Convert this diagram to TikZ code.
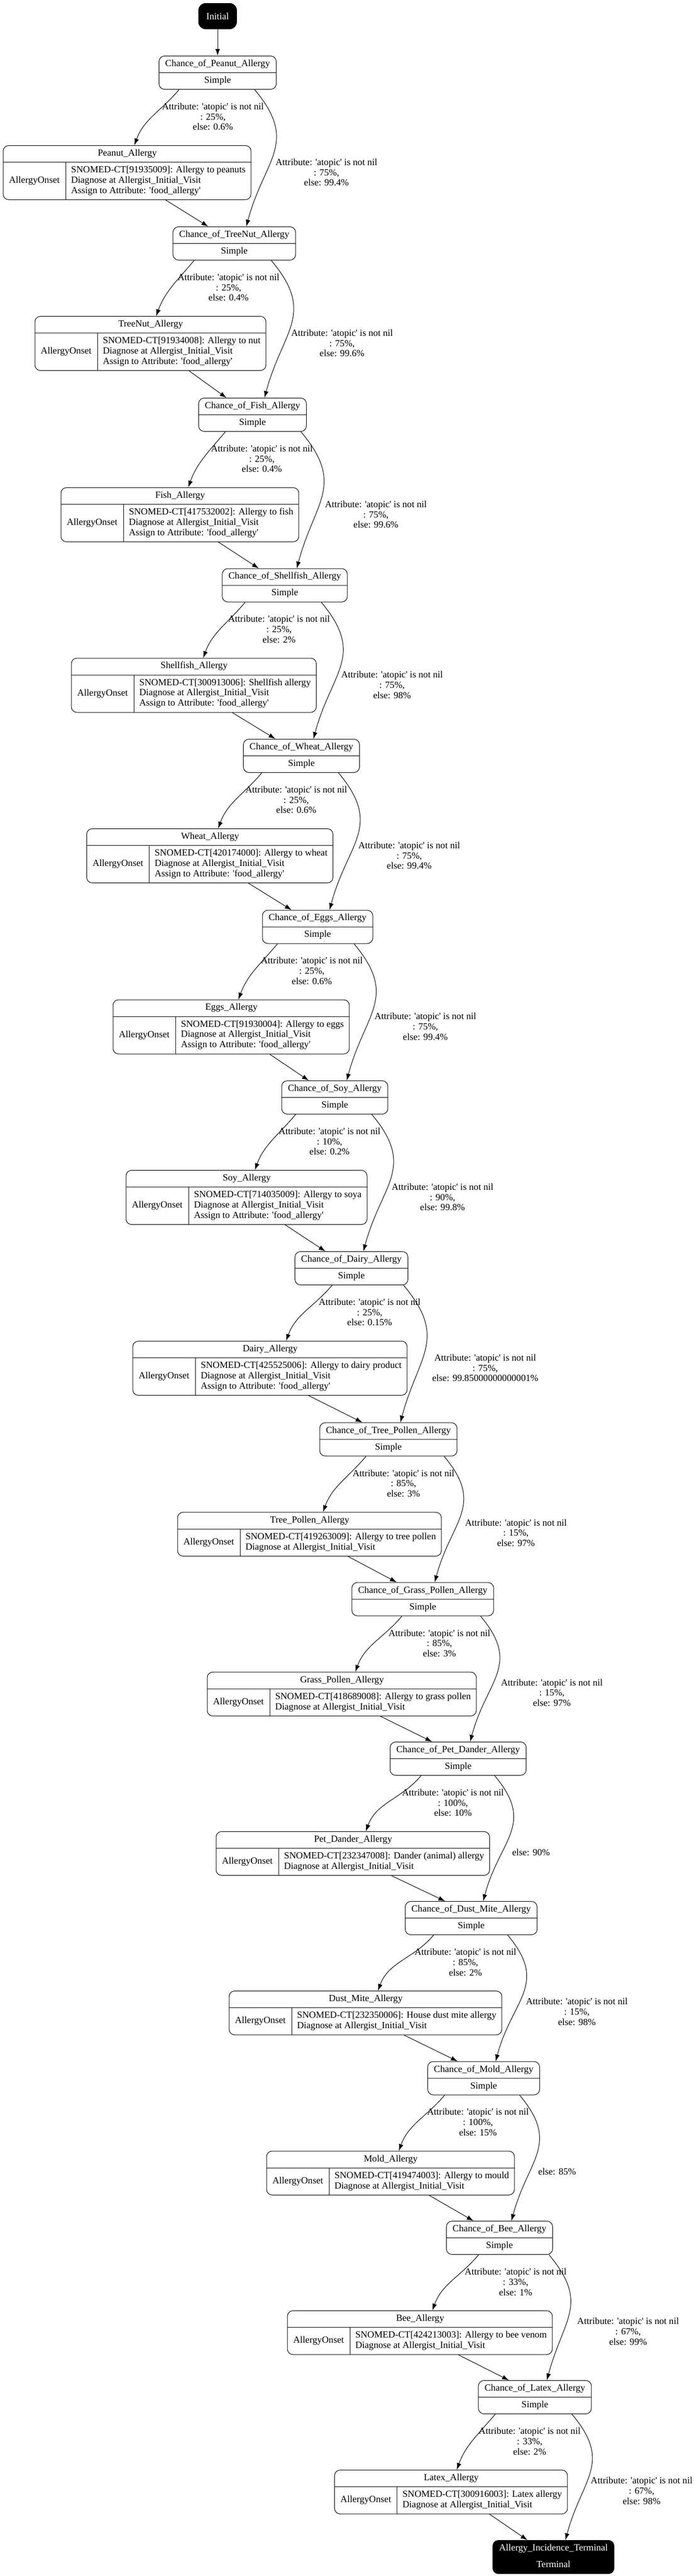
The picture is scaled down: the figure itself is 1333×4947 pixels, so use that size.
\documentclass[tikz,border=0pt]{standalone}
\usepackage{fontspec}
\setmainfont{Liberation Serif}[Ligatures=TeXOff]
\usetikzlibrary{shapes.multipart, fit, calc, arrows.meta}

\begin{document}
\begin{tikzpicture}[x=0.75pt, y=0.75pt, >={Latex[length=9.75pt, width=6.75pt]}, line width=0.75pt,
  font=\fontsize{13.6}{14.85}\selectfont,
  chance/.style={rectangle split, rectangle split parts=2, draw, rounded corners=8pt, inner xsep=9pt, inner ysep=4.2pt},
  startnode/.style={draw, fill=black, text=white, rounded corners=10pt, minimum width=54.75pt, minimum height=36.75pt},
  head/.style={inner xsep=0pt, inner ysep=4.2pt},
  detail/.style={align=left, inner xsep=7.5pt, inner ysep=4.35pt},
  onset/.style={inner sep=0pt, minimum width=89.25pt},
  record/.style={draw, rounded corners=8pt, inner sep=0pt},
  lbl/.style={align=center, inner sep=0pt}]
  \useasboundingbox (0,0) rectangle (1333,-4947);
  \node[startnode, anchor=north] (init) at (418,-6) {Initial};
  % one level per allergy: chance node, allergy record, two labels
  \foreach \i/\nm/\cx/\ct/\ax/\code/\what/\food/\pa/\ea/\dl/\pb/\eb/\dr in {
    1/Peanut/418/107/7/91935009/Allergy to peanuts/1/25/0.6/-9/75/99.4/209,
    2/TreeNut/450/435/68/91934008/Allergy to nut/1/25/0.4/-11/75/99.6/207,
    3/Fish/485/764/118/417532002/Allergy to fish/1/25/0.4/18/75/99.6/237,
    4/Shellfish/547/1091.5/138/300913006/Shellfish allergy/1/25/2/-11/75/98/206,
    5/Wheat/579/1419/167.5/420174000/Allergy to wheat/1/25/0.6/-10/75/99.4/207,
    6/Eggs/610/1747.5/218/91930004/Allergy to eggs/1/25/0.6/-11/75/99.4/207,
    7/Soy/643/2075/243/714035009/Allergy to soya/1/10/0.2/-10/90/99.8/207,
    8/Dairy/675/2403/256/425525006/Allergy to dairy product/1/25/0.15/35/75/99.85000000000001/257,
    9/Tree\_Pollen/746/2731.7/342/419263009/Allergy to tree pollen/0/85/3/29/15/97/245,
    10/Grass\_Pollen/812/3038.6/399/418689008/Allergy to grass pollen/0/85/3/32/15/97/248,
    11/Pet\_Dander/880/3344.8/416/232347008/Dander (animal) allergy/0/100/10/-10/0/90/140,
    12/Dust\_Mite/905/3651/441/232350006/House dust mite allergy/0/85/2/-11/15/98/203,
    13/Mold/929/3958.5/513/419474003/Allergy to mould/0/100/15/-11/0/85/141,
    14/Bee/959.4/4265/553/424213003/Allergy to bee venom/0/33/1/31/67/99/247,
    15/Latex/1027.4/4571/643.6/300916003/Latex allergy/0/33/2/-10/67/98/205}
  {
    \ifnum\food=1 \def\more{\\Assign to Attribute: 'food\_allergy'}\else\def\more{}\fi
    \ifnum\pb=0 \def\rest{else: \eb\%}\else\def\rest{Attribute: 'atopic' is not nil\\: \pb\%,\\else: \eb\%}\fi
    \node[chance, anchor=north] (c\i) at (\cx,-\ct) {\strut Chance\_of\_\nm\_Allergy\nodepart{two}\strut Simple};
    \node[detail, anchor=north west] (d\i) at (\ax+119,-\ct-204.5) {\strut SNOMED-CT[\code]: \what\\Diagnose at Allergist\_Initial\_Visit\more\strut};
    \node[onset, anchor=east] (o\i) at (d\i.west) {AllergyOnset};
    \node[head, anchor=south] (t\i) at ($(\ax,-\ct-204.5)!.5!(d\i.north east)$) {\strut\nm\_Allergy};
    \node[record, fit=(t\i.north)(o\i.west)(d\i.south east)] (a\i) {};
    \draw (a\i.west |- d\i.north) -- (a\i.east |- d\i.north) (d\i.north west) -- (d\i.south west);
    \node[lbl] (l\i) at (\cx+\dl,-\ct-117) {Attribute: 'atopic' is not nil\\: \pa\%,\\else: \ea\%};
    \node[lbl] (r\i) at (\cx+\dr,-\ct-212-12*\food) {\rest};
  }
  \node[chance, fill=black, text=white, anchor=north, alias=c16] (term) at (1063,-4878) {\strut Allergy\_Incidence\_Terminal\nodepart{two}\strut Terminal};
  % connectors
  \path[->] (init) edge (c1);
  \foreach \i/\ls/\rs/\le in {1/-74/71/14, 2/-77/71/11, 3/-52/93/16, 4/-76/70/18, 5/-76/71/16,
    6/-77/70/14, 7/-75/71/16, 8/-37/100/31, 9/-43/107/26, 10/-40/111/26, 11/-71/70/25,
    12/-72/70/24, 13/-75/69/16, 14/-40/95/24, 15/-76/71/11}
  {
    \pgfmathtruncatemacro\j{\i+1}
    \path[->] ($(c\i.south)+(\ls,0)$) edge[out=-130, in=70] ($(a\i.north)+(\le,0)$)
      ($(c\i.south)+(\rs,0)$) edge[out=-50, in=75, looseness=1.3] ($(c\j.north)+(23,0)$)
      ($(a\i.south)+(74,0)$) edge ($(c\j.north)+(-50,0)$);
  }
\end{tikzpicture}
\end{document}
